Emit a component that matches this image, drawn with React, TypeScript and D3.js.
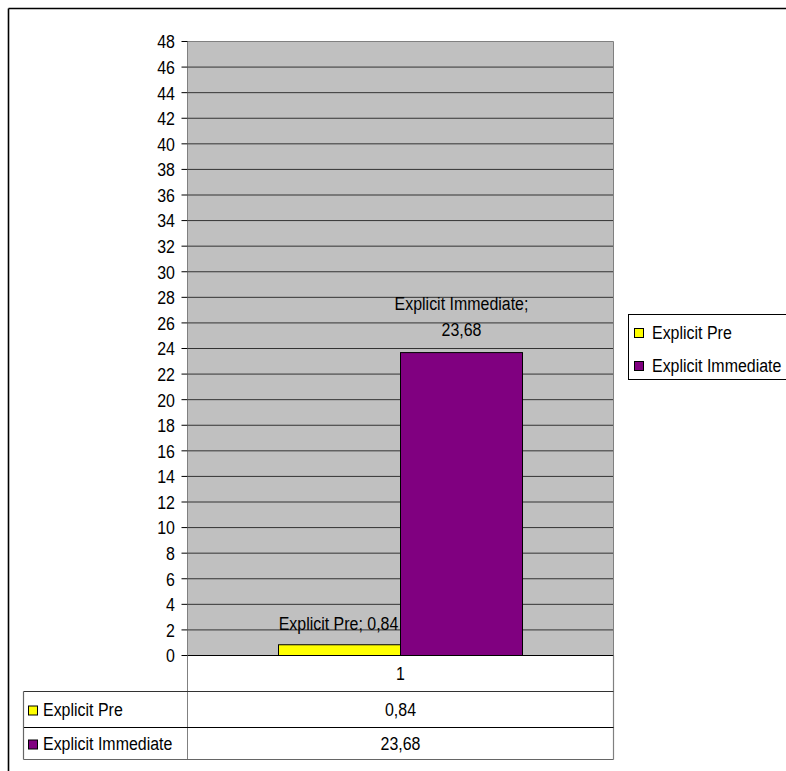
import React from "react";
import * as d3 from "d3";

const categories = ["1"];
const seriesNames = ["Explicit Pre", "Explicit Immediate"];
const seriesValues = [0.84, 23.68];
const valueLabels = ["0,84", "23,68"];
const seriesColors = ["#FFFF00", "#800080"];
const yTicks = d3.range(0, 49, 2);

const FONT = "'Liberation Sans', Arial, sans-serif";
const FS = 19;
const SX = 0.84;

function T(props: { x: number; y: number; anchor?: "start" | "middle" | "end"; children: React.ReactNode }) {
  return (
    <text
      transform={`translate(${props.x},${props.y}) scale(${SX},1)`}
      dy="0.36em"
      textAnchor={props.anchor || "start"}
      fill="#000"
      fontSize={FS}
    >
      {props.children}
    </text>
  );
}

export default function App() {
  const W = 786;
  const H = 771;
  const plotL = 187.5;
  const plotR = 613.5;
  const plotT = 41.5;
  const plotB = 655.5;

  const y = d3.scaleLinear().domain([0, 48]).range([plotB, plotT]);
  const x = d3
    .scaleBand<string>()
    .domain(categories)
    .range([plotL, plotR])
    .paddingInner(0)
    .paddingOuter(0.373);
  const xs = d3
    .scaleBand<string>()
    .domain(seriesNames)
    .range([0, x.bandwidth()])
    .padding(0);

  const tableTop = 691.5;
  const rowH = 34;
  const tableLeft = 23.5;
  const catRowMid = 673;

  const xPre = (x("1") as number) + (xs(seriesNames[0]) as number) + xs.bandwidth() / 2;
  const xImm = (x("1") as number) + (xs(seriesNames[1]) as number) + xs.bandwidth() / 2;

  return (
    <svg
      width={W}
      height={H}
      style={{ position: "fixed", left: 0, top: 0, background: "#fff" }}
      fontFamily={FONT}
      fontSize={FS}
    >
      <rect x={0} y={0} width={W} height={H} fill="#fff" />
      {/* outer border */}
      <line x1={8.5} y1={8.5} x2={W} y2={8.5} stroke="#000" strokeWidth={1.6} />
      <line x1={8.5} y1={8.5} x2={8.5} y2={H} stroke="#000" strokeWidth={1.6} />

      {/* plot background */}
      <rect x={plotL} y={plotT} width={plotR - plotL} height={plotB - plotT} fill="#C0C0C0" />

      {/* gridlines */}
      {yTicks.map((t) => (
        <line
          key={"g" + t}
          x1={plotL}
          x2={plotR}
          y1={y(t)}
          y2={y(t)}
          stroke={t === 48 ? "#808080" : "#333"}
          strokeWidth={1}
        />
      ))}
      {/* right plot border */}
      <line x1={plotR} x2={plotR} y1={plotT} y2={plotB} stroke="#808080" strokeWidth={1} />

      {/* bars */}
      {categories.map((c) =>
        seriesNames.map((s, i) => {
          const x0 = (x(c) as number) + (xs(s) as number);
          return (
            <rect
              key={c + s}
              x={x0}
              y={y(seriesValues[i])}
              width={xs.bandwidth()}
              height={y(0) - y(seriesValues[i])}
              fill={seriesColors[i]}
              stroke="#000"
              strokeWidth={1}
            />
          );
        })
      )}

      {/* axis line at 0 */}
      <line x1={plotL} x2={plotR} y1={plotB} y2={plotB} stroke="#000" strokeWidth={1} />

      {/* y axis */}
      <line x1={plotL} x2={plotL} y1={plotT} y2={tableTop + 2 * rowH} stroke="#808080" strokeWidth={1} />
      {yTicks.map((t) => (
        <g key={"t" + t}>
          <line x1={plotL - 6} x2={plotL} y1={y(t)} y2={y(t)} stroke="#000" strokeWidth={1} />
          <T x={175} y={y(t)} anchor="end">
            {t}
          </T>
        </g>
      ))}

      {/* data labels */}
      <T x={xPre - 1} y={y(seriesValues[0]) - 22} anchor="middle">
        {seriesNames[0] + "; " + valueLabels[0]}
      </T>
      <T x={xImm} y={y(seriesValues[1]) - 49} anchor="middle">
        {seriesNames[1] + ";"}
      </T>
      <T x={xImm} y={y(seriesValues[1]) - 23} anchor="middle">
        {valueLabels[1]}
      </T>

      {/* category cell */}
      <line x1={plotR} x2={plotR} y1={plotB} y2={tableTop + 2 * rowH} stroke="#808080" strokeWidth={1.2} />
      {categories.map((c) => (
        <T key={c} x={(x(c) as number) + x.bandwidth() / 2} y={catRowMid} anchor="middle">
          {c}
        </T>
      ))}

      {/* data table */}
      <line x1={tableLeft} x2={plotR} y1={tableTop} y2={tableTop} stroke="#333" strokeWidth={1.2} />
      <line x1={tableLeft} x2={plotR} y1={tableTop + rowH + 2} y2={tableTop + rowH + 2} stroke="#000" strokeWidth={1.2} />
      <line x1={tableLeft} x2={plotR} y1={tableTop + 2 * rowH} y2={tableTop + 2 * rowH} stroke="#666" strokeWidth={1.2} />
      <line x1={tableLeft} x2={tableLeft} y1={tableTop} y2={tableTop + 2 * rowH} stroke="#666" strokeWidth={1.2} />
      {seriesNames.map((s, i) => {
        const mid = tableTop + rowH * i + rowH / 2 + 1;
        return (
          <g key={"row" + s}>
            <rect x={28.5} y={mid - 3.5} width={9} height={9} fill={seriesColors[i]} stroke="#000" strokeWidth={1} />
            <T x={43} y={mid}>
              {s}
            </T>
            <T x={(x("1") as number) + x.bandwidth() / 2} y={mid} anchor="middle">
              {valueLabels[i]}
            </T>
          </g>
        );
      })}

      {/* legend */}
      <rect x={628.5} y={314.5} width={200} height={65} fill="#fff" stroke="#000" strokeWidth={1} />
      {seriesNames.map((s, i) => {
        const mid = 332 + i * 33;
        return (
          <g key={"lg" + s}>
            <rect x={634.5} y={mid - 3.5} width={9} height={9} fill={seriesColors[i]} stroke="#000" strokeWidth={1} />
            <T x={652} y={mid}>
              {s}
            </T>
          </g>
        );
      })}
    </svg>
  );
}
